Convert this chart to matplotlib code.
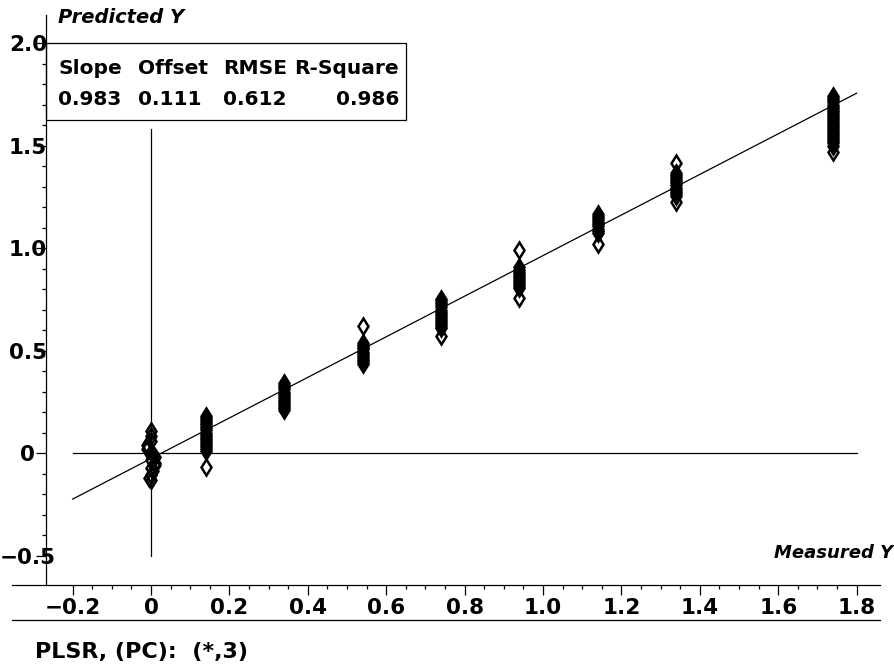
import matplotlib
matplotlib.use("Agg")
from matplotlib import pyplot as plt
from matplotlib import patches
from matplotlib.ticker import FixedLocator
import numpy as np

measured = [0.0, 0.14, 0.34, 0.54, 0.74, 0.94, 1.14, 1.34, 1.74]
offset_000 = [0, 0, 0, -0.01, -0.01, 0, 0.005, 0.01, 0, 0.01, 0.01, 0, 0.005, 0, -0.005, 0]
pred_000 = [0.105, 0.085, 0.06, 0.04, 0.02, 0.005, -0.01, -0.02, -0.035, -0.05,
            -0.06, -0.075, -0.09, -0.105, -0.12, -0.13]
pred_014 = [0.18, 0.17, 0.16, 0.15, 0.14, 0.13, 0.12, 0.11, 0.10, 0.09, 0.08,
            0.07, 0.06, 0.05, 0.04, 0.03, 0.02, 0.01, -0.07]
pred_034 = [0.34, 0.33, 0.32, 0.31, 0.30, 0.29, 0.28, 0.27, 0.26, 0.25, 0.24,
            0.23, 0.22, 0.21]
pred_054 = [0.62, 0.535, 0.525, 0.515, 0.505, 0.495, 0.485, 0.475, 0.465, 0.455,
            0.445, 0.435]
pred_074 = [0.75, 0.74, 0.73, 0.72, 0.71, 0.70, 0.69, 0.68, 0.67, 0.66, 0.65,
            0.64, 0.63, 0.62, 0.61, 0.57]
pred_094 = [0.99, 0.905, 0.895, 0.885, 0.875, 0.865, 0.855, 0.845, 0.835, 0.825,
            0.815, 0.805, 0.755]
pred_114 = [1.165, 1.155, 1.145, 1.135, 1.125, 1.115, 1.105, 1.095, 1.085, 1.075, 1.02]
pred_134 = [1.415, 1.365, 1.355, 1.345, 1.335, 1.325, 1.315, 1.305, 1.295, 1.285,
            1.275, 1.265, 1.255, 1.225]
pred_174 = [1.74, 1.73, 1.72, 1.71, 1.70, 1.69, 1.68, 1.67, 1.66, 1.65, 1.64,
            1.63, 1.62, 1.61, 1.60, 1.59, 1.58, 1.57, 1.56, 1.55, 1.54, 1.53,
            1.52, 1.51, 1.50, 1.47]

# fitted line, zero reference lines
fit_x = [-0.2, 1.8]
fit_y = [-0.225, 1.755]
zero_h_x = [-0.2, 1.8]
zero_v_y = [-0.5, 1.58]

# statistics table
stat_names = ["Slope", "Offset", "RMSE", "R-Square"]
stat_values = ["0.983", "0.111", "0.612", "0.986"]

x_ticks = [-0.2, 0, 0.2, 0.4, 0.6, 0.8, 1.0, 1.2, 1.4, 1.6, 1.8]
x_labels = ["\u22120.2", "0", "0.2", "0.4", "0.6", "0.8", "1.0", "1.2", "1.4", "1.6", "1.8"]
y_ticks = [-0.5, 0, 0.5, 1.0, 1.5, 2.0]
y_labels = ["\u22120.5", "0", "0.5", "1.0", "1.5", "2.0"]

tick_font = {"family": "DejaVu Sans", "weight": "bold", "size": 15.5}
text_font = {"family": "DejaVu Sans", "weight": "bold"}

fig = plt.figure(figsize=(8.95, 6.65), dpi=100)
ax = fig.add_axes([12 / 895, 80 / 665, 868 / 895, 570 / 665])
ax.set_xlim(-0.3546, 1.8597)
ax.set_ylim(-0.6439, 2.1366)

for side in ("top", "right"):
    ax.spines[side].set_visible(False)
ax.spines["left"].set_position(("data", -0.268))
ax.spines["left"].set_linewidth(0.9)
ax.spines["bottom"].set_linewidth(0.9)

ax.xaxis.set_major_locator(FixedLocator(x_ticks))
ax.xaxis.set_minor_locator(FixedLocator(np.arange(-0.15, 1.8, 0.05)))
ax.set_xticklabels(x_labels, fontdict=tick_font)
ax.yaxis.set_major_locator(FixedLocator(y_ticks))
ax.yaxis.set_minor_locator(FixedLocator(np.arange(-0.4, 1.95, 0.1)))
ax.set_yticklabels(y_labels, fontdict=tick_font)
for lab in ax.get_yticklabels():
    lab.set_horizontalalignment("center")
ax.tick_params(axis="both", which="major", length=7, width=0.9, direction="out")
ax.tick_params(axis="both", which="minor", length=3, width=0.9, direction="out")
ax.tick_params(axis="y", which="major", pad=6)
ax.tick_params(axis="x", which="major", pad=2)

# second rule under the x tick labels
ax.plot([0, 1], [-0.0614, -0.0614], transform=ax.transAxes, clip_on=False,
        color="black", lw=0.9)

ax.plot(zero_h_x, [0, 0], color="black", lw=0.9)
ax.plot([0, 0], zero_v_y, color="black", lw=0.9)
ax.plot(fit_x, fit_y, color="black", lw=0.9)

groups = [pred_000, pred_014, pred_034, pred_054, pred_074, pred_094,
          pred_114, pred_134, pred_174]
for i, (m, p) in enumerate(zip(measured, groups)):
    xs = np.full(len(p), m)
    if i == 0:
        xs = xs + np.array(offset_000)
    ax.plot(xs, p, linestyle="none", marker="d", markersize=8.5,
            markerfacecolor="none", markeredgecolor="black", markeredgewidth=1.8,
            clip_on=False)

# stats box
box = patches.Rectangle((-0.268, 1.624), 0.6505 + 0.268, 2.0 - 1.624, fill=False,
                        edgecolor="black", lw=0.9, clip_on=False)
ax.add_patch(box)
col_x = [-0.237, -0.033, 0.184, 0.633]
for j, (name, val) in enumerate(zip(stat_names, stat_values)):
    ha = "right" if j == 3 else "left"
    ax.text(col_x[j], 1.878, name, ha=ha, va="center", fontsize=14.5, **text_font)
    ax.text(col_x[j], 1.722, val, ha=ha, va="center", fontsize=14.5, **text_font)

ax.text(-0.237, 2.122, "Predicted Y", ha="left", va="center", fontsize=14,
        style="italic", clip_on=False, **text_font)
ax.text(1.893, -0.488, "Measured Y", ha="right", va="center", fontsize=13,
        style="italic", clip_on=False, **text_font)

fig.text(35 / 895, 13 / 665, "PLSR, (PC):  (*,3)", ha="left", va="center",
         fontsize=16, **text_font)

fig.savefig("out.png", dpi=100)
